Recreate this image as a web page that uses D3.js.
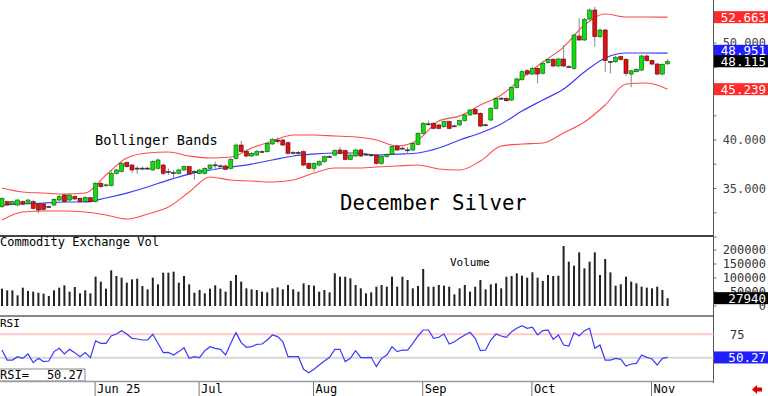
<!DOCTYPE html>
<html>
<head>
<meta charset="utf-8">
<script src="https://cdnjs.cloudflare.com/ajax/libs/d3/7.8.5/d3.min.js"></script>
<style>
  body { margin: 0; background: #fff; }
  svg { display: block; font-family: "DejaVu Sans Mono", monospace; }
</style>
</head>
<body>
<div id="chart"></div>
<script>
/*
December Silver daily chart
1. Data (one value per trading day)
2. Price panel: candles + Bollinger bands
3. Volume panel
4. RSI panel + date axis
*/

// ---------- 1. Data ----------
const opens = [
  33.12, 33.64, 33.40, 33.30, 33.64, 33.47, 33.64, 33.40, 33.40, 33.10,
  33.30, 33.81, 34.33, 33.81, 34.16, 33.98, 33.64, 34.05, 33.64, 35.53,
  35.30, 35.29, 36.56, 36.74, 37.66, 37.42, 37.05, 37.10, 37.05, 36.91,
  37.08, 37.42, 36.72, 36.60, 36.56, 36.91, 37.25, 36.72, 36.56, 36.56,
  37.08, 37.40, 37.34, 37.32, 37.08, 38.11, 39.48, 38.85, 38.35, 38.45,
  38.78, 38.80, 39.59, 40.00, 40.00, 39.72, 38.67, 38.68, 38.80, 37.59,
  37.08, 37.42, 37.77, 38.26, 38.45, 38.97, 38.90, 38.00, 38.35, 38.97,
  38.50, 38.47, 38.45, 37.59, 38.28, 38.55, 39.38, 39.12, 38.95, 38.97,
  39.55, 40.69, 41.63, 41.72, 41.55, 41.37, 41.89, 41.42, 41.55, 41.99,
  42.58, 43.16, 42.75, 41.53, 42.06, 43.26, 44.31, 44.29, 44.12, 45.43,
  46.25, 47.14, 46.80, 47.39, 46.87, 47.97, 48.31, 47.63, 48.35, 47.58,
  47.39, 50.72, 50.31, 52.47, 53.40, 50.65, 51.34, 48.05, 48.07, 48.59,
  48.31, 46.80, 47.04, 47.21, 48.66, 48.18, 47.83, 46.80, 47.85];
const highs = [
  34.10, 33.75, 33.75, 33.95, 33.78, 33.95, 33.80, 33.50, 33.55, 33.25,
  34.00, 34.35, 34.45, 34.45, 34.30, 34.10, 34.20, 34.15, 35.65, 35.70,
  35.50, 36.91, 37.05, 37.75, 37.80, 37.55, 37.30, 37.25, 37.25, 37.90,
  38.10, 37.55, 37.08, 36.91, 37.05, 37.40, 37.35, 36.91, 37.00, 37.20,
  37.55, 37.77, 37.50, 37.45, 38.15, 39.65, 39.90, 39.00, 38.75, 38.95,
  38.95, 39.80, 40.20, 40.27, 40.10, 39.85, 38.85, 38.85, 38.90, 37.70,
  37.70, 37.90, 38.40, 38.45, 39.05, 39.31, 39.00, 38.60, 39.10, 39.10,
  38.65, 38.60, 38.55, 38.40, 38.65, 39.45, 39.50, 39.30, 39.31, 39.80,
  40.85, 41.85, 42.00, 41.85, 41.65, 42.00, 42.00, 41.60, 42.10, 42.70,
  43.20, 43.30, 42.85, 41.70, 43.40, 44.40, 44.45, 44.40, 45.55, 46.45,
  47.20, 47.30, 47.55, 47.50, 48.05, 48.45, 48.45, 48.50, 49.79, 47.70,
  50.95, 52.54, 52.60, 53.55, 53.75, 51.50, 51.45, 48.20, 48.70, 48.70,
  48.45, 47.25, 47.40, 48.80, 48.80, 48.30, 47.95, 47.90, 48.35];
const lows = [
  33.00, 33.20, 33.30, 33.15, 33.25, 33.40, 32.85, 32.44, 32.70, 33.00,
  33.15, 33.70, 33.55, 33.70, 33.80, 33.55, 33.55, 33.55, 33.55, 35.05,
  35.20, 35.20, 36.45, 36.65, 37.15, 36.60, 36.50, 36.90, 36.95, 36.80,
  36.95, 36.40, 36.40, 36.05, 36.45, 36.80, 36.40, 35.90, 36.45, 36.45,
  36.95, 36.91, 37.15, 36.90, 36.95, 38.00, 38.70, 38.20, 38.25, 38.35,
  38.65, 38.70, 39.50, 39.66, 39.40, 38.50, 38.55, 38.55, 37.30, 36.95,
  36.74, 37.30, 37.65, 38.15, 38.35, 38.50, 37.90, 37.90, 38.25, 38.25,
  38.40, 38.30, 37.50, 37.42, 38.20, 38.45, 38.85, 39.00, 38.62, 38.85,
  39.45, 40.55, 41.50, 41.10, 41.10, 41.25, 41.10, 41.35, 41.45, 41.90,
  42.50, 42.60, 41.35, 41.40, 41.95, 43.15, 44.15, 43.95, 44.00, 45.30,
  46.10, 46.65, 46.70, 45.84, 46.75, 47.85, 47.50, 47.50, 47.50, 47.45,
  47.25, 50.20, 50.20, 52.35, 49.62, 50.50, 47.04, 46.87, 47.95, 48.20,
  46.60, 45.43, 46.95, 47.10, 48.05, 47.70, 46.65, 46.65, 47.75];
const closes = [
  33.98, 33.30, 33.64, 33.81, 33.40, 33.81, 32.95, 32.78, 32.85, 33.14,
  33.88, 34.16, 33.64, 34.33, 33.92, 33.64, 34.09, 33.64, 35.53, 35.19,
  35.38, 36.56, 36.91, 37.59, 37.25, 36.91, 37.10, 37.05, 37.10, 37.77,
  37.94, 36.56, 36.76, 36.65, 36.91, 37.25, 36.49, 36.76, 36.91, 37.08,
  37.42, 37.44, 37.30, 36.97, 38.00, 39.48, 38.80, 38.35, 38.62, 38.80,
  38.82, 39.66, 40.07, 39.83, 39.48, 38.62, 38.71, 38.72, 37.42, 37.08,
  37.59, 37.77, 38.28, 38.30, 38.90, 38.62, 38.00, 38.45, 38.97, 38.35,
  38.54, 38.43, 37.59, 38.28, 38.52, 39.31, 38.97, 39.16, 38.99, 39.66,
  40.69, 41.72, 41.67, 41.20, 41.20, 41.89, 41.20, 41.46, 41.99, 42.58,
  43.09, 42.68, 41.44, 41.57, 43.26, 44.29, 44.27, 44.05, 45.43, 46.29,
  47.04, 46.80, 47.39, 46.80, 47.90, 48.31, 47.63, 48.35, 47.63, 47.54,
  50.82, 50.31, 52.44, 53.40, 50.65, 51.34, 48.18, 48.09, 48.52, 48.31,
  46.87, 47.14, 47.28, 48.66, 48.18, 47.83, 46.80, 47.80, 48.115];
const volumes = [
  61900, 55900, 55900, 38100, 65500, 53600, 51200, 47600, 44000, 35700,
  55900, 65500, 73800, 51200, 67800, 45200, 55900, 45200, 104700, 86900,
  61900, 127300, 107100, 101200, 83300, 95200, 97600, 71400, 59500, 101200,
  77400, 119000, 119000, 122600, 83300, 107100, 77400, 47600, 57100, 45200,
  61900, 73800, 61900, 51200, 89300, 110700, 86900, 63100, 59500, 57100,
  51200, 48800, 63100, 66600, 59500, 75000, 59500, 51200, 80900, 75000,
  72600, 51200, 57100, 48800, 116600, 104700, 104700, 98800, 75000, 63100,
  45200, 48800, 69000, 75000, 69000, 104700, 69000, 104700, 92800, 63100,
  71400, 132100, 69000, 69000, 75000, 72600, 69000, 41700, 63100, 75000,
  51200, 69000, 92800, 59500, 77400, 80900, 63100, 104700, 107100, 116600,
  108300, 101200, 120200, 101200, 89300, 110700, 107100, 108300, 214200, 158300,
  144000, 191600, 134500, 158300, 191600, 110700, 167800, 120200, 72600, 77400,
  104700, 86900, 80900, 69000, 65500, 63100, 69000, 57100, 27940];
const rsi = [
  58.2, 47.5, 47.5, 51.1, 49.3, 54.0, 44.7, 49.3, 45.8, 46.5,
  56.5, 60.0, 54.0, 58.9, 55.4, 51.1, 55.4, 50.0, 67.9, 65.4,
  65.4, 73.2, 75.3, 78.9, 75.3, 70.7, 70.0, 68.9, 68.9, 75.0,
  65.4, 55.4, 55.7, 52.9, 56.5, 60.7, 49.3, 51.1, 50.0, 57.5,
  61.8, 60.0, 58.9, 52.9, 65.4, 76.8, 66.1, 61.1, 61.8, 64.3,
  64.6, 68.9, 74.3, 72.5, 67.1, 51.1, 51.1, 51.1, 37.6, 34.0,
  37.6, 42.2, 46.5, 50.4, 58.9, 58.9, 45.8, 49.3, 57.5, 50.0,
  50.0, 50.4, 40.4, 49.3, 52.9, 61.8, 56.5, 58.2, 58.2, 65.4,
  73.2, 79.6, 79.6, 70.7, 71.8, 75.3, 64.6, 67.1, 70.7, 74.3,
  77.1, 70.7, 57.5, 58.2, 68.9, 75.3, 73.2, 71.8, 77.8, 81.4,
  84.2, 81.4, 82.5, 74.3, 78.9, 79.6, 69.6, 74.3, 63.6, 62.5,
  76.8, 73.2, 78.9, 81.4, 60.0, 63.6, 47.5, 47.5, 49.3, 48.3,
  41.1, 43.3, 44.0, 52.9, 50.4, 48.6, 42.2, 49.3, 50.27];

// Bollinger bands, read every 4th trading day
const bandDays = d3.range(0, 129, 4);
const bandUpper = [35.05, 34.64, 34.53, 34.43, 34.53, 36.39, 38.14, 38.66, 38.76, 38.35, 38.14,
  38.24, 39.17, 39.89, 40.51, 40.51, 40.41, 40.31, 40.00, 39.38, 40.00, 41.96,
  42.47, 43.61, 44.64, 46.39, 48.04, 49.58, 51.85, 52.99, 52.68, 52.68, 52.663];
const bandMiddle = [33.30, 33.40, 33.50, 33.61, 33.61, 34.02, 34.53, 35.15, 35.87, 36.49, 36.90,
  37.21, 37.52, 37.94, 38.35, 38.55, 38.66, 38.66, 38.45, 38.55, 38.66, 39.17,
  40.00, 40.72, 41.65, 42.99, 44.12, 45.25, 47.01, 48.45, 48.97, 48.97, 48.951];
const bandLower = [31.75, 32.57, 32.68, 32.68, 32.57, 32.27, 31.85, 32.37, 33.09, 34.64, 36.18,
  35.87, 35.77, 35.67, 35.87, 36.60, 37.11, 37.11, 37.21, 37.32, 37.42, 37.01,
  36.90, 37.83, 39.38, 39.58, 39.69, 40.72, 41.85, 43.61, 45.77, 45.87, 45.239];

// axis labels (45.000 sits behind the lower band tag, so it is left out)
const monthDays = [18, 38, 60, 81, 102, 125];
const monthLabels = ["Jun 25", "Jul", "Aug", "Sep", "Oct", "Nov"];
const priceTicks = [35, 40, 50];
const volumeTicks = [0, 50000, 100000, 150000, 200000];
const rsiTicks = [75];

// ---------- 2. Price panel ----------
const W = 768, H = 396, axisX = 713.5;
const svg = d3.select("#chart").append("svg").attr("width", W).attr("height", H);

const x = d3.scaleLinear().domain([0, closes.length - 1]).range([2, 667.6]);
const yPrice = d3.scaleLinear().domain([30, 54.433]).range([237, 0]);
const yVol = d3.scaleLinear().domain([0, 200000]).range([306, 250]);
const yRsi = d3.scaleLinear().domain([50, 75]).range([357.7, 334.3]);

const days = closes.map((c, i) => ({ i, o: opens[i], h: highs[i], l: lows[i], c, v: volumes[i], r: rsi[i] }));

svg.append("clipPath").attr("id", "priceClip")
  .append("rect").attr("x", 0).attr("y", 0).attr("width", axisX).attr("height", 235);
const price = svg.append("g").attr("clip-path", "url(#priceClip)");

// bands
const bandLine = values => d3.line()
  .x((d, k) => x(bandDays[k]))
  .y((d) => yPrice(d))
  .curve(d3.curveMonotoneX)(values);

price.append("path").attr("d", bandLine(bandUpper)).attr("fill", "none").attr("stroke", "#ff4a4a").attr("stroke-width", 1.1);
price.append("path").attr("d", bandLine(bandLower)).attr("fill", "none").attr("stroke", "#ff4a4a").attr("stroke-width", 1.1);
price.append("path").attr("d", bandLine(bandMiddle)).attr("fill", "none").attr("stroke", "#3a3aff").attr("stroke-width", 1.2);

// wicks
price.selectAll(".wick").data(days).enter().append("line")
  .attr("x1", d => x(d.i)).attr("x2", d => x(d.i))
  .attr("y1", d => yPrice(d.h)).attr("y2", d => yPrice(d.l))
  .attr("stroke", "#888").attr("stroke-width", 1);

// bodies
price.selectAll(".body").data(days).enter().append("rect")
  .attr("x", d => x(d.i) - 2)
  .attr("y", d => yPrice(Math.max(d.o, d.c)))
  .attr("width", 4)
  .attr("height", d => Math.max(1, Math.abs(yPrice(d.o) - yPrice(d.c))))
  .attr("fill", d => Math.abs(d.c - d.o) < 0.06 ? "#333" : (d.c > d.o ? "#11dd11" : "#dd1111"))
  .attr("stroke", d => Math.abs(d.c - d.o) < 0.06 ? "#333" : (d.c > d.o ? "#0a5a0a" : "#5a0a0a"))
  .attr("stroke-width", 0.6);

// chart titles
svg.append("text").attr("x", 95).attr("y", 145).style("font-size", "13.6px").text("Bollinger Bands");
svg.append("text").attr("x", 340).attr("y", 210).style("font-size", "20.7px").text("December Silver");

// right price axis
svg.append("line").attr("x1", axisX).attr("x2", axisX).attr("y1", 0).attr("y2", 383).attr("stroke", "#555");
svg.selectAll(".ptick").data(d3.range(30, 55, 2.5)).enter().append("line")
  .attr("x1", axisX).attr("x2", axisX + 3)
  .attr("y1", d => yPrice(d)).attr("y2", d => yPrice(d)).attr("stroke", "#777");
svg.selectAll(".plabel").data(priceTicks).enter().append("text")
  .attr("x", 766).attr("y", d => yPrice(d)).attr("dy", "0.35em")
  .attr("text-anchor", "end").style("font-size", "12px").attr("fill", "#444")
  .text(d => d3.format(".3f")(d));

// value tags on the right
function tag(yc, color, label) {
  svg.append("rect").attr("x", 714).attr("y", yc - 6).attr("width", 54).attr("height", 12).attr("fill", color);
  svg.append("text").attr("x", 766).attr("y", yc).attr("dy", "0.36em").attr("text-anchor", "end")
    .style("font-size", "12.5px").attr("fill", "#fff").text(label);
}
const last = closes.length - 1;
const closeY = yPrice(closes[last]);
let midY = yPrice(bandMiddle[bandMiddle.length - 1]);
if (closeY - midY < 11) midY = closeY - 10.5;
tag(yPrice(bandUpper[bandUpper.length - 1]), "#ff2b2b", d3.format(".3f")(bandUpper[bandUpper.length - 1]));
tag(yPrice(bandLower[bandLower.length - 1]), "#ff2b2b", d3.format(".3f")(bandLower[bandLower.length - 1]));
tag(midY, "#1e1eff", d3.format(".3f")(bandMiddle[bandMiddle.length - 1]));
tag(closeY, "#000", d3.format(".3f")(closes[last]));

// panel separator
svg.append("line").attr("x1", 0).attr("x2", axisX).attr("y1", 236).attr("y2", 236).attr("stroke", "#444").attr("stroke-width", 2);

// ---------- 3. Volume panel ----------
svg.append("text").attr("x", 0).attr("y", 246).style("font-size", "12px").text("Commodity Exchange Vol");
svg.append("text").attr("x", 450).attr("y", 266).style("font-size", "11px").text("Volume");

svg.selectAll(".vol").data(days).enter().append("rect")
  .attr("x", d => x(d.i) - 1)
  .attr("y", d => yVol(d.v))
  .attr("width", 2)
  .attr("height", d => yVol(0) - yVol(d.v))
  .attr("fill", "#222");

svg.selectAll(".vtick").data(volumeTicks).enter().append("line")
  .attr("x1", axisX).attr("x2", axisX + 3)
  .attr("y1", d => yVol(d)).attr("y2", d => yVol(d)).attr("stroke", "#777");
svg.selectAll(".vlabel").data(volumeTicks).enter().append("text")
  .attr("x", 766).attr("y", d => yVol(d)).attr("dy", "0.35em")
  .attr("text-anchor", "end").style("font-size", "12px").attr("fill", "#333")
  .text(d => d);
tag(yVol(volumes[last]), "#000", volumes[last]);

svg.append("line").attr("x1", 0).attr("x2", axisX).attr("y1", 316).attr("y2", 316).attr("stroke", "#111").attr("stroke-width", 1);

// ---------- 4. RSI panel ----------
svg.append("line").attr("x1", 0).attr("x2", axisX).attr("y1", yRsi(75)).attr("y2", yRsi(75)).attr("stroke", "#ffcaca").attr("stroke-width", 2);
svg.append("line").attr("x1", 0).attr("x2", axisX).attr("y1", yRsi(50)).attr("y2", yRsi(50)).attr("stroke", "#d6d6d6").attr("stroke-width", 2);

svg.append("path").datum(days)
  .attr("d", d3.line().x(d => x(d.i)).y(d => yRsi(d.r)))
  .attr("fill", "none").attr("stroke", "#3a3aff").attr("stroke-width", 1.2);

svg.append("text").attr("x", 0).attr("y", 327).style("font-size", "11px").text("RSI");
svg.selectAll(".rlabel").data(rsiTicks).enter().append("text")
  .attr("x", 730).attr("y", d => yRsi(d)).attr("dy", "0.35em")
  .style("font-size", "12px").attr("fill", "#333").text(d => d);
tag(yRsi(rsi[last]), "#1e1eff", d3.format(".2f")(rsi[last]));

// RSI readout box
svg.append("rect").attr("x", -1).attr("y", 369).attr("width", 86).attr("height", 12)
  .attr("fill", "#fff").attr("stroke", "#888");
svg.append("text").attr("x", 0).attr("y", 379).style("font-size", "12px").text("RSI=");
svg.append("text").attr("x", 83).attr("y", 379).attr("text-anchor", "end").style("font-size", "12px")
  .text(d3.format(".2f")(rsi[last]));

svg.append("line").attr("x1", 0).attr("x2", axisX).attr("y1", 381.5).attr("y2", 381.5).attr("stroke", "#9a9aa8").attr("stroke-width", 1.5);

// date axis
svg.selectAll(".mtick").data(monthDays).enter().append("line")
  .attr("x1", d => x(d) - 0.5).attr("x2", d => x(d) - 0.5)
  .attr("y1", 382).attr("y2", 396).attr("stroke", "#777");
svg.selectAll(".mlabel").data(monthDays).enter().append("text")
  .attr("x", d => x(d) + 1.5).attr("y", 393)
  .style("font-size", "12px").text((d, k) => monthLabels[k]);

// little red arrow, bottom right
svg.append("path")
  .attr("d", "M752,389.5 L757,385 L757,387.5 L762,387.5 L762,391.5 L757,391.5 L757,394 Z")
  .attr("fill", "#e00000");
</script>
</body>
</html>
